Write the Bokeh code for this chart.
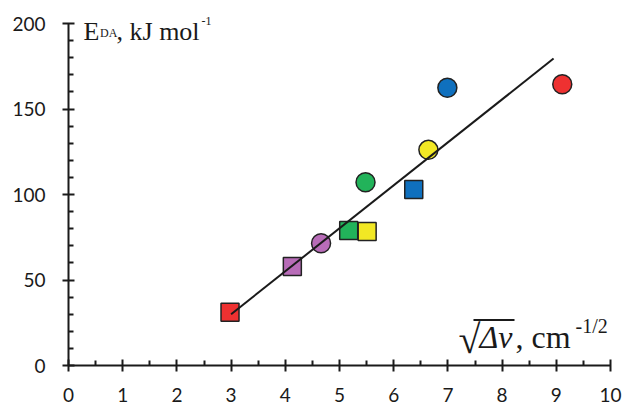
from bokeh.plotting import figure
from bokeh.models import Range1d, FixedTicker, Label, BoxAnnotation
from bokeh.embed import file_html
from bokeh.resources import INLINE

# --- data ---
circle_x = [4.66, 5.48, 6.64, 6.99, 9.11]
circle_y = [71.5, 107.2, 126.1, 162.4, 164.5]
circle_colors = ["#B86CB8", "#22B35A", "#F2E824", "#0F70BE", "#EE3131"]

square_x = [2.98, 4.13, 5.51, 5.17, 6.37]
square_y = [31.2, 57.9, 78.4, 79.0, 102.9]
square_colors = ["#EE3131", "#B86CB8", "#F2E824", "#22B35A", "#0F70BE"]

fit_x = [3.0, 8.95]
fit_y = [30.0, 179.5]

x_ticks = [0, 1, 2, 3, 4, 5, 6, 7, 8, 9, 10]
x_minor = [0.5, 1.5, 2.5, 3.5, 4.5, 5.5, 6.5, 7.5, 8.5, 9.5]
y_ticks = [0, 50, 100, 150, 200]
y_minor = [10, 20, 30, 40, 60, 70, 80, 90, 110, 120, 130, 140, 160, 170, 180, 190]

SERIF = "Liberation Serif"
INK = "#1a1a1a"

p = figure(width=622, height=404, output_backend="svg", toolbar_location=None,
           x_range=Range1d(0, 10), y_range=Range1d(0, 205.85),
           min_border_left=68, min_border_right=12, min_border_top=13,
           min_border_bottom=39)
p.outline_line_color = None
p.xgrid.grid_line_color = None
p.ygrid.grid_line_color = None
p.background_fill_color = "white"
p.border_fill_color = "white"

p.xaxis.ticker = FixedTicker(ticks=x_ticks, minor_ticks=x_minor)
p.yaxis.ticker = FixedTicker(ticks=y_ticks, minor_ticks=y_minor)
p.yaxis.bounds = (0, 200)

for ax in (p.xaxis[0], p.yaxis[0]):
    ax.axis_line_width = 2
    ax.axis_line_color = INK
    ax.major_tick_line_width = 2
    ax.major_tick_line_color = INK
    ax.major_tick_in = 6
    ax.major_tick_out = 6
    ax.minor_tick_line_width = 2
    ax.minor_tick_line_color = INK
    ax.minor_tick_in = 5
    ax.minor_tick_out = 0
    ax.major_label_text_font = "Lato"
    ax.major_label_text_font_size = "19px"
    ax.major_label_text_color = INK
p.yaxis[0].major_label_standoff = 17
p.xaxis[0].major_label_standoff = 16

# markers
p.scatter(square_x, square_y, marker="square", size=18, fill_color=square_colors,
          line_color="#222222", line_width=1.5)
p.scatter(circle_x, circle_y, marker="circle", size=19, fill_color=circle_colors,
          line_color="#222222", line_width=1.5)
# fit line on top
p.line(fit_x, fit_y, line_color=INK, line_width=2)

# y-axis title: E_DA, kJ mol^-1
ey_x, ey_y = 0.277, 195.4
p.add_layout(Label(x=ey_x, y=ey_y, text="E", text_font=SERIF, text_font_size="26px",
                   text_color=INK, text_baseline="alphabetic"))
p.add_layout(Label(x=ey_x, y=ey_y, x_offset=16.5, y_offset=-2, text="DA", text_font=SERIF,
                   text_font_size="12px", text_color=INK, text_baseline="alphabetic"))
p.add_layout(Label(x=ey_x, y=ey_y, x_offset=33, text=", kJ mol", text_font=SERIF,
                   text_font_size="26px", text_color=INK, text_baseline="alphabetic"))
p.add_layout(Label(x=ey_x, y=ey_y, x_offset=118, y_offset=10, text="-1", text_font=SERIF,
                   text_font_size="12px", text_color=INK, text_baseline="alphabetic"))

# x-axis title: sqrt(Δν), cm^-1/2
xl_x, xl_y = 7.196, 16.4
p.add_layout(Label(x=xl_x, y=xl_y, y_offset=-2, text="\u221a", text_font=SERIF,
                   text_font_size="40px", text_color=INK, text_baseline="alphabetic"))
p.add_layout(Label(x=xl_x, y=xl_y, x_offset=21, text="\u0394\u03bd", text_font=SERIF,
                   text_font_style="italic", text_font_size="32px", text_color=INK,
                   text_baseline="alphabetic"))
p.add_layout(Label(x=xl_x, y=xl_y, x_offset=57, text=", cm", text_font=SERIF,
                   text_font_size="32px", text_color=INK, text_baseline="alphabetic"))
p.add_layout(Label(x=xl_x, y=xl_y, x_offset=117, y_offset=11, text="-1/2", text_font=SERIF,
                   text_font_size="20px", text_color=INK, text_baseline="alphabetic"))
p.add_layout(BoxAnnotation(left=7.472, right=8.229, bottom=26.0, top=27.2,
                           fill_color=INK, fill_alpha=1.0, line_color=None))

open("out.html", "w").write(file_html(p, INLINE))
